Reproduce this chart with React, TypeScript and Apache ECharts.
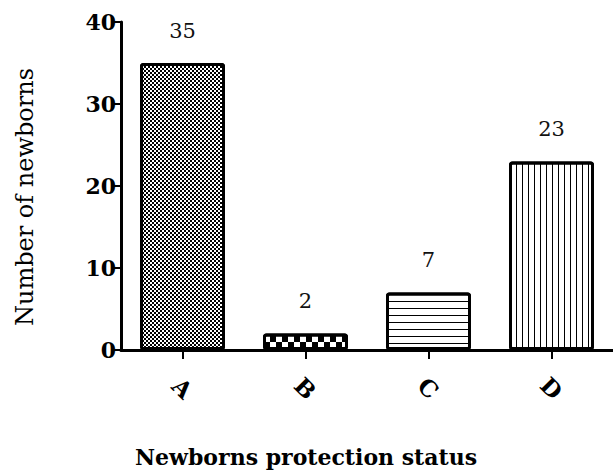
import React, { useEffect, useRef } from "react";
import * as echarts from "echarts";

const categories = ["A", "B", "C", "D"];
const counts = [35, 2, 7, 23];
const yTicks = [0, 10, 20, 30, 40];

const FONT = "'DejaVu Serif', 'Liberation Serif', serif";

const decals = [
  // A: fine checkerboard
  { symbol: "rect", symbolSize: 1, color: "#000", dashArrayX: [[2, 2], [0, 2, 2, 0]], dashArrayY: [2, 0], rotation: 0 },
  // B: coarse checkerboard
  { symbol: "rect", symbolSize: 1, color: "#000", dashArrayX: [[6, 6], [0, 6, 6, 0]], dashArrayY: [6, 0], rotation: 0 },
  // C: horizontal lines
  { symbol: "rect", symbolSize: 1, color: "#000", dashArrayX: [1, 0], dashArrayY: [1, 6], rotation: 0 },
  // D: vertical lines
  { symbol: "rect", symbolSize: 1, color: "#000", dashArrayX: [1, 5], dashArrayY: [1, 0], rotation: 0 },
];

export default function App() {
  const ref = useRef<HTMLDivElement>(null);
  useEffect(() => {
    if (!ref.current) return;
    const chart = echarts.init(ref.current, undefined, { renderer: "svg" });
    chart.setOption({
      animation: false,
      backgroundColor: "#fff",
      grid: { left: 121, right: 0, top: 22, bottom: 126, containLabel: false },
      xAxis: {
        type: "category",
        data: categories,
        name: "Newborns protection status",
        nameLocation: "middle",
        nameGap: 96,
        nameTextStyle: { fontFamily: FONT, fontWeight: "bold", fontSize: 22, color: "#000", padding: [0, 122, 0, 0] },
        axisLine: { show: true, lineStyle: { color: "#000", width: 3 } },
        axisTick: { show: true, alignWithLabel: true, length: 9, lineStyle: { color: "#000", width: 2 } },
        axisLabel: {
          rotate: -45,
          margin: 38,
          align: "center",
          verticalAlign: "middle",
          fontFamily: FONT,
          fontWeight: "bold",
          fontSize: 23,
          color: "#000",
        },
      },
      yAxis: {
        type: "value",
        min: yTicks[0],
        max: yTicks[yTicks.length - 1],
        interval: 10,
        name: "Number of newborns",
        nameLocation: "middle",
        nameGap: 84,
        nameTextStyle: { fontFamily: FONT, fontSize: 24, color: "#000", padding: [0, 22, 0, 0] },
        axisLine: { show: true, lineStyle: { color: "#000", width: 3 } },
        axisTick: { show: true, length: 7, lineStyle: { color: "#000", width: 2 } },
        splitLine: { show: false },
        axisLabel: { fontFamily: FONT, fontWeight: "bold", fontSize: 22, color: "#000", margin: 5 },
      },
      series: [
        {
          type: "bar",
          barWidth: 85,
          data: counts.map((v, i) => ({
            value: v,
            itemStyle: { color: "#fff", borderColor: "#000", borderWidth: 3, borderRadius: 2, decal: decals[i] },
          })),
          label: {
            show: true,
            position: "top",
            distance: 22,
            fontFamily: FONT,
            fontSize: 21,
            color: "#111",
          },
        },
      ],
    });
    return () => chart.dispose();
  }, []);
  return <div ref={ref} style={{ width: 613, height: 476, position: "absolute", left: 0, top: 0 }} />;
}
